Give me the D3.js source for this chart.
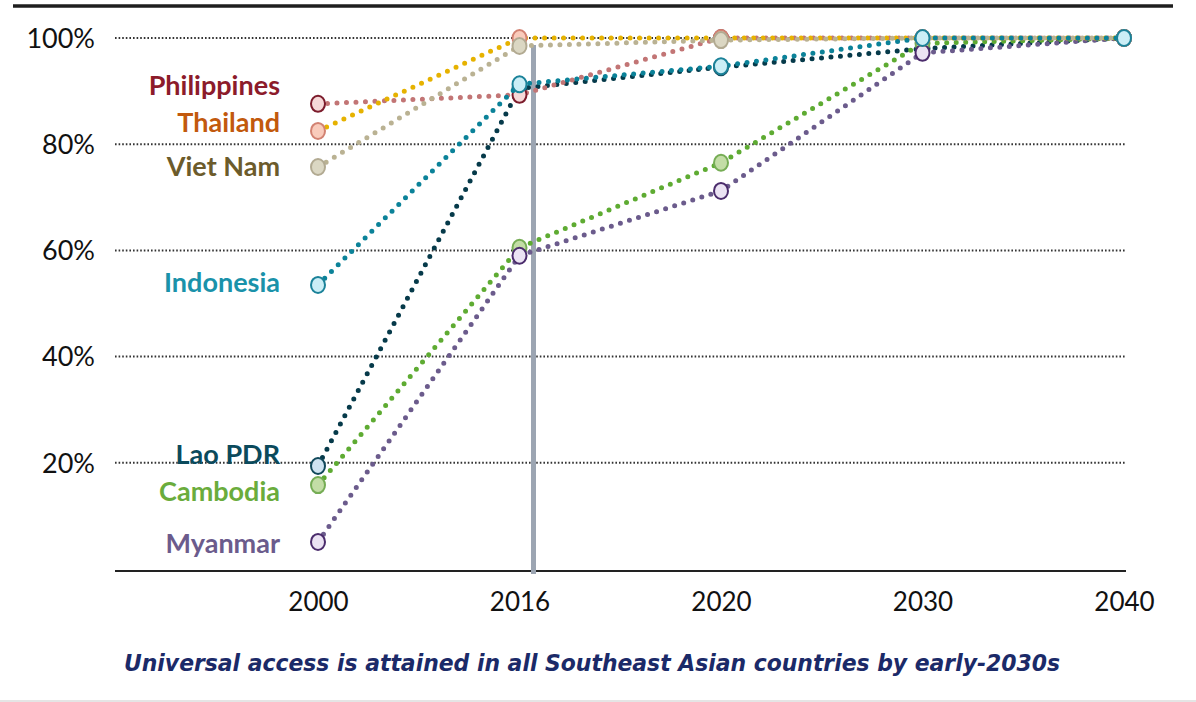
<!DOCTYPE html>
<html><head><meta charset="utf-8">
<script src="https://cdn.jsdelivr.net/npm/d3@7"></script>
<style>
html,body{margin:0;padding:0;background:#fff;}
svg{display:block;}
</style></head>
<body>
<svg id="chart" width="1196" height="702"></svg>
<script>
// ---- data ----
const years = ["2000", "2016", "2020", "2030", "2040"];
const countries = ["Lao PDR", "Cambodia", "Myanmar", "Philippines", "Thailand", "Viet Nam", "Indonesia"];
const laoPDR      = [19.4, 90.5, 94.5, 98.0, 100];
const cambodia    = [15.8, 60.5, 76.5, 99.0, 100];
const myanmar     = [5.1, 59.0, 71.2, 97.2, 100];
const philippines = [87.6, 89.3, 100, 100, 100];
const thailand    = [82.5, 100, 100, 100, 100];
const vietNam     = [75.7, 98.5, 99.6, 100, 100];
const indonesia   = [53.5, 91.3, 94.7, 100, 100];
const yTicks = [20, 40, 60, 80, 100];
const yTickLabels = ["20%", "40%", "60%", "80%", "100%"];
const title = "Universal access is attained in all Southeast Asian countries by early-2030s";
const highlightYear = "2016";

const seriesValues = [laoPDR, cambodia, myanmar, philippines, thailand, vietNam, indonesia];
const styles = {
  "Lao PDR":     {text:"#0b4a5c", line:"#063a4a", fill:"#cfe3f1", stroke:"#12495b"},
  "Cambodia":    {text:"#6aac3c", line:"#5eab32", fill:"#c3dda6", stroke:"#76ad55"},
  "Myanmar":     {text:"#6b5b8c", line:"#6b5b8c", fill:"#ebe3f3", stroke:"#4b2c6c"},
  "Philippines": {text:"#8c1b2b", line:"#c27575", fill:"#f6d8d8", stroke:"#7c1c2c"},
  "Thailand":    {text:"#c2590d", line:"#e6b200", fill:"#f9cbbb", stroke:"#d28272"},
  "Viet Nam":    {text:"#6c5b2b", line:"#bab293", fill:"#dbd7c3", stroke:"#b2aa92"},
  "Indonesia":   {text:"#1a92aa", line:"#0b8299", fill:"#cbeef6", stroke:"#1b8299"}
};
const labelY = {"Philippines":86, "Thailand":123, "Viet Nam":167, "Indonesia":283, "Lao PDR":455, "Cambodia":492, "Myanmar":544};

const svg = d3.select("#chart");
const x = d3.scalePoint().domain(years).range([318, 1124]);
const y = d3.scaleLinear().domain([0, 100]).range([569, 38]);

// top rule and bottom faint line
svg.append("line").attr("x1",13).attr("x2",1173).attr("y1",6).attr("y2",6)
  .attr("stroke","#1e1e1e").attr("stroke-width",3.5);
svg.append("line").attr("x1",0).attr("x2",1196).attr("y1",701).attr("y2",701)
  .attr("stroke","#dcdcdc").attr("stroke-width",1.5);

// grid
svg.append("g").selectAll("line").data(yTicks).join("line")
  .attr("x1",115).attr("x2",1126)
  .attr("y1",d=>y(d)).attr("y2",d=>y(d))
  .attr("stroke","#333").attr("stroke-width",2).attr("stroke-dasharray","1.6 2");

// y labels
svg.append("g").selectAll("text").data(yTicks).join("text")
  .attr("x",95).attr("y",d=>y(d)).attr("dy","0.36em")
  .attr("text-anchor","end")
  .attr("font-family","Lato, 'Open Sans', sans-serif").attr("font-size",27)
  .attr("fill","#111").text((d,i)=>yTickLabels[i]);

// x axis
const xAxis = svg.append("g").attr("transform","translate(0,571)")
  .call(d3.axisBottom(x).tickSize(0).tickPadding(22));
xAxis.select(".domain").remove();
xAxis.append("line").attr("x1",115).attr("x2",1126).attr("y1",0).attr("y2",0)
  .attr("stroke","#222").attr("stroke-width",2);
xAxis.selectAll(".tick text").attr("font-family","Lato, 'Open Sans', sans-serif")
  .attr("font-size",26).attr("fill","#111");

// highlight vertical line
svg.append("line").attr("x1",x(highlightYear)+14).attr("x2",x(highlightYear)+14)
  .attr("y1",45).attr("y2",574).attr("stroke","#9ca5b2").attr("stroke-width",5);

// series
const line = d3.line().x((d,i)=>x(years[i])).y(d=>y(d));
countries.forEach((c,k)=>{
  const st = styles[c];
  const vals = seriesValues[k];
  const g = svg.append("g");
  g.append("path").attr("d", line(vals)).attr("fill","none")
    .attr("stroke", st.line).attr("stroke-width",5)
    .attr("stroke-linecap","round").attr("stroke-dasharray","0 9.5");
  g.selectAll("ellipse").data(vals).join("ellipse")
    .attr("cx",(d,i)=>x(years[i])).attr("cy",d=>y(d)).attr("rx",7).attr("ry",8)
    .attr("fill",st.fill).attr("stroke",st.stroke).attr("stroke-width",2);
});

// country labels
svg.append("g").selectAll("text").data(countries).join("text")
  .attr("x",280).attr("y",c=>labelY[c]).attr("dy","0.35em")
  .attr("text-anchor","end")
  .attr("font-family","Lato, 'Open Sans', sans-serif").attr("font-weight","bold")
  .attr("font-size",27).attr("fill",c=>styles[c].text).text(c=>c);

// title
svg.append("text").attr("x",592).attr("y",663).attr("dy","0.35em")
  .attr("text-anchor","middle")
  .attr("font-family","'DejaVu Sans', sans-serif").attr("font-style","italic")
  .attr("font-weight","bold").attr("font-size",23)
  .attr("textLength",936).attr("lengthAdjust","spacingAndGlyphs")
  .attr("fill","#1b2a68").text(title);
</script>
</body></html>
